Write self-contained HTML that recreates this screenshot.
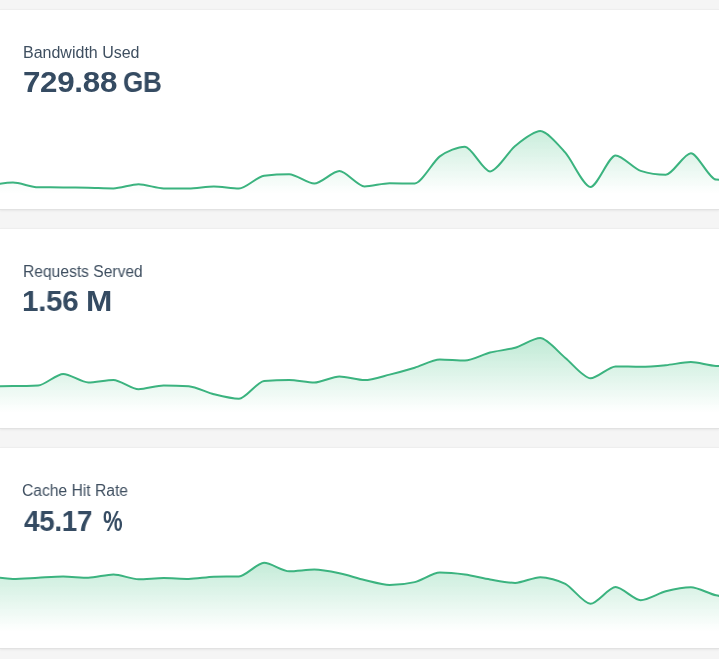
<!DOCTYPE html>
<html><head><meta charset="utf-8"><style>
html,body{margin:0;padding:0;}
body{width:719px;height:659px;overflow:hidden;background:#f5f5f5;position:relative;font-family:"Liberation Sans",sans-serif;}
.card{position:absolute;left:0;width:719px;background:#fff;box-sizing:border-box;border-top:1px solid #eeeeee;border-bottom:1px solid #e2e2e2;box-shadow:0 1px 2px rgba(0,0,0,0.06);overflow:hidden;}
.label{position:absolute;transform-origin:0 0;will-change:transform;font-size:16px;line-height:1;color:#3f4f60;white-space:nowrap;letter-spacing:0px;}
.value{position:absolute;transform-origin:0 0;will-change:transform;font-size:30.2px;line-height:1;font-weight:bold;color:#354b62;white-space:nowrap;letter-spacing:-0.3px;}
.chart{position:absolute;left:0;top:-1px;}
</style></head><body>
<div class="card" style="top:9px;height:201px">
<div class="label" style="left:23.38px;top:35px;transform:scaleX(0.9962)">Bandwidth Used</div>
<div class="value" style="left:23.13px;top:57px;transform:scaleX(1.0383)">729.88</div>
<div class="value" style="left:123.0px;top:57px;transform:scaleX(0.8614)">GB</div>
<svg class="chart" width="719" height="201" viewBox="0 0 719 201">
<defs><linearGradient id="g0" x1="0" y1="110" x2="0" y2="184" gradientUnits="userSpaceOnUse">
<stop offset="0" stop-color="#3fbf80" stop-opacity="0.33"/>
<stop offset="1" stop-color="#3fbf80" stop-opacity="0"/></linearGradient></defs>
<path d="M-12.11,176.50C-5.33,175.33,6.22,173.60,13.00,173.60C19.78,173.60,31.33,178.25,38.11,178.30C44.89,178.35,56.44,178.35,63.21,178.40C69.99,178.45,81.54,178.56,88.32,178.70C95.10,178.83,106.65,179.40,113.43,179.40C120.21,179.40,131.76,175.30,138.53,175.30C145.31,175.30,156.86,179.29,163.64,179.40C170.42,179.51,181.97,179.60,188.75,179.60C195.53,179.60,207.08,177.60,213.86,177.60C220.63,177.60,232.18,179.60,238.96,179.60C245.74,179.60,257.29,167.46,264.07,166.70C270.85,165.94,282.40,165.30,289.18,165.30C295.96,165.30,307.51,174.60,314.28,174.60C321.06,174.60,332.61,162.10,339.39,162.10C346.17,162.10,357.72,177.40,364.50,177.40C371.28,177.40,382.83,174.30,389.61,174.30C396.38,174.30,407.93,174.50,414.71,174.50C421.49,174.50,433.04,152.37,439.82,147.40C446.60,142.43,458.15,137.70,464.93,137.70C471.70,137.70,483.25,162.40,490.03,162.40C496.81,162.40,508.36,142.44,515.14,137.00C521.92,131.56,533.47,122.10,540.25,122.10C547.03,122.10,558.58,136.15,565.35,143.70C572.13,151.25,583.68,178.00,590.46,178.00C597.24,178.00,608.79,146.50,615.57,146.50C622.35,146.50,633.90,159.79,640.67,161.90C647.45,164.01,659.00,165.80,665.78,165.80C672.56,165.80,684.11,144.20,690.89,144.20C697.67,144.20,709.22,170.49,716.00,170.60C722.77,170.71,734.32,170.77,741.10,170.80L741.10,200L-12.11,200Z" fill="url(#g0)"/>
<path d="M-12.11,176.50C-5.33,175.33,6.22,173.60,13.00,173.60C19.78,173.60,31.33,178.25,38.11,178.30C44.89,178.35,56.44,178.35,63.21,178.40C69.99,178.45,81.54,178.56,88.32,178.70C95.10,178.83,106.65,179.40,113.43,179.40C120.21,179.40,131.76,175.30,138.53,175.30C145.31,175.30,156.86,179.29,163.64,179.40C170.42,179.51,181.97,179.60,188.75,179.60C195.53,179.60,207.08,177.60,213.86,177.60C220.63,177.60,232.18,179.60,238.96,179.60C245.74,179.60,257.29,167.46,264.07,166.70C270.85,165.94,282.40,165.30,289.18,165.30C295.96,165.30,307.51,174.60,314.28,174.60C321.06,174.60,332.61,162.10,339.39,162.10C346.17,162.10,357.72,177.40,364.50,177.40C371.28,177.40,382.83,174.30,389.61,174.30C396.38,174.30,407.93,174.50,414.71,174.50C421.49,174.50,433.04,152.37,439.82,147.40C446.60,142.43,458.15,137.70,464.93,137.70C471.70,137.70,483.25,162.40,490.03,162.40C496.81,162.40,508.36,142.44,515.14,137.00C521.92,131.56,533.47,122.10,540.25,122.10C547.03,122.10,558.58,136.15,565.35,143.70C572.13,151.25,583.68,178.00,590.46,178.00C597.24,178.00,608.79,146.50,615.57,146.50C622.35,146.50,633.90,159.79,640.67,161.90C647.45,164.01,659.00,165.80,665.78,165.80C672.56,165.80,684.11,144.20,690.89,144.20C697.67,144.20,709.22,170.49,716.00,170.60C722.77,170.71,734.32,170.77,741.10,170.80" fill="none" stroke="#3bb37f" stroke-width="2.0" stroke-linejoin="round" stroke-linecap="round"/>
</svg>
</div><div class="card" style="top:228px;height:201px">
<div class="label" style="left:23.35px;top:35px;transform:scaleX(0.9755)">Requests Served</div>
<div class="value" style="left:22.31px;top:57px;transform:scaleX(0.9801)">1.56</div>
<div class="value" style="left:85.57px;top:57px;transform:scaleX(1.0466)">M</div>
<svg class="chart" width="719" height="201" viewBox="0 0 719 201">
<defs><linearGradient id="g1" x1="0" y1="110" x2="0" y2="184" gradientUnits="userSpaceOnUse">
<stop offset="0" stop-color="#3fbf80" stop-opacity="0.33"/>
<stop offset="1" stop-color="#3fbf80" stop-opacity="0"/></linearGradient></defs>
<path d="M-12.11,158.20C-5.33,158.19,6.22,158.15,13.00,158.10C19.78,158.05,31.33,157.82,38.11,157.50C44.89,157.18,56.44,145.90,63.21,145.90C69.99,145.90,81.54,154.50,88.32,154.50C95.10,154.50,106.65,152.00,113.43,152.00C120.21,152.00,131.76,161.30,138.53,161.30C145.31,161.30,156.86,157.40,163.64,157.40C170.42,157.40,181.97,157.81,188.75,158.30C195.53,158.79,207.08,164.51,213.86,166.20C220.63,167.89,232.18,170.80,238.96,170.80C245.74,170.80,257.29,153.54,264.07,153.00C270.85,152.46,282.40,152.00,289.18,152.00C295.96,152.00,307.51,154.50,314.28,154.50C321.06,154.50,332.61,148.40,339.39,148.40C346.17,148.40,357.72,152.10,364.50,152.10C371.28,152.10,382.83,148.27,389.61,146.60C396.38,144.93,407.93,141.72,414.71,139.70C421.49,137.67,433.04,131.60,439.82,131.60C446.60,131.60,458.15,132.60,464.93,132.60C471.70,132.60,483.25,126.23,490.03,124.50C496.81,122.77,508.36,121.74,515.14,119.80C521.92,117.86,533.47,110.10,540.25,110.10C547.03,110.10,558.58,124.57,565.35,130.00C572.13,135.43,583.68,150.30,590.46,150.30C597.24,150.30,608.79,138.40,615.57,138.40C622.35,138.40,633.90,138.80,640.67,138.80C647.45,138.80,659.00,137.83,665.78,137.20C672.56,136.57,684.11,134.10,690.89,134.10C697.67,134.10,709.22,137.74,716.00,137.90C722.77,138.06,734.32,138.16,741.10,138.20L741.10,200L-12.11,200Z" fill="url(#g1)"/>
<path d="M-12.11,158.20C-5.33,158.19,6.22,158.15,13.00,158.10C19.78,158.05,31.33,157.82,38.11,157.50C44.89,157.18,56.44,145.90,63.21,145.90C69.99,145.90,81.54,154.50,88.32,154.50C95.10,154.50,106.65,152.00,113.43,152.00C120.21,152.00,131.76,161.30,138.53,161.30C145.31,161.30,156.86,157.40,163.64,157.40C170.42,157.40,181.97,157.81,188.75,158.30C195.53,158.79,207.08,164.51,213.86,166.20C220.63,167.89,232.18,170.80,238.96,170.80C245.74,170.80,257.29,153.54,264.07,153.00C270.85,152.46,282.40,152.00,289.18,152.00C295.96,152.00,307.51,154.50,314.28,154.50C321.06,154.50,332.61,148.40,339.39,148.40C346.17,148.40,357.72,152.10,364.50,152.10C371.28,152.10,382.83,148.27,389.61,146.60C396.38,144.93,407.93,141.72,414.71,139.70C421.49,137.67,433.04,131.60,439.82,131.60C446.60,131.60,458.15,132.60,464.93,132.60C471.70,132.60,483.25,126.23,490.03,124.50C496.81,122.77,508.36,121.74,515.14,119.80C521.92,117.86,533.47,110.10,540.25,110.10C547.03,110.10,558.58,124.57,565.35,130.00C572.13,135.43,583.68,150.30,590.46,150.30C597.24,150.30,608.79,138.40,615.57,138.40C622.35,138.40,633.90,138.80,640.67,138.80C647.45,138.80,659.00,137.83,665.78,137.20C672.56,136.57,684.11,134.10,690.89,134.10C697.67,134.10,709.22,137.74,716.00,137.90C722.77,138.06,734.32,138.16,741.10,138.20" fill="none" stroke="#3bb37f" stroke-width="2.0" stroke-linejoin="round" stroke-linecap="round"/>
</svg>
</div><div class="card" style="top:447px;height:202px">
<div class="label" style="left:22.37px;top:35px;transform:scaleX(0.9768)">Cache Hit Rate</div>
<div class="value" style="left:24.33px;top:58px;transform:scaleX(0.921)">45.17</div>
<div class="value" style="left:103.03px;top:58px;transform:scaleX(0.7259)">%</div>
<svg class="chart" width="719" height="202" viewBox="0 0 719 202">
<defs><linearGradient id="g2" x1="0" y1="110" x2="0" y2="184" gradientUnits="userSpaceOnUse">
<stop offset="0" stop-color="#3fbf80" stop-opacity="0.33"/>
<stop offset="1" stop-color="#3fbf80" stop-opacity="0"/></linearGradient></defs>
<path d="M-12.11,129.00C-5.33,130.17,6.22,131.90,13.00,131.90C19.78,131.90,31.33,131.01,38.11,130.70C44.89,130.39,56.44,129.60,63.21,129.60C69.99,129.60,81.54,130.70,88.32,130.70C95.10,130.70,106.65,127.50,113.43,127.50C120.21,127.50,131.76,132.30,138.53,132.30C145.31,132.30,156.86,131.00,163.64,131.00C170.42,131.00,181.97,131.90,188.75,131.90C195.53,131.90,207.08,129.86,213.86,129.70C220.63,129.54,232.18,129.56,238.96,129.40C245.74,129.24,257.29,115.80,264.07,115.80C270.85,115.80,282.40,124.30,289.18,124.30C295.96,124.30,307.51,122.60,314.28,122.60C321.06,122.60,332.61,124.90,339.39,126.30C346.17,127.70,357.72,131.42,364.50,133.00C371.28,134.58,382.83,138.00,389.61,138.00C396.38,138.00,407.93,136.67,414.71,135.10C421.49,133.53,433.04,125.60,439.82,125.60C446.60,125.60,458.15,126.67,464.93,127.60C471.70,128.53,483.25,131.38,490.03,132.50C496.81,133.62,508.36,135.90,515.14,135.90C521.92,135.90,533.47,130.20,540.25,130.20C547.03,130.20,558.58,133.24,565.35,136.80C572.13,140.36,583.68,156.80,590.46,156.80C597.24,156.80,608.79,140.00,615.57,140.00C622.35,140.00,633.90,153.20,640.67,153.20C647.45,153.20,659.00,146.05,665.78,144.30C672.56,142.54,684.11,140.20,690.89,140.20C697.67,140.20,709.22,146.84,716.00,148.30C722.77,149.76,734.32,150.64,741.10,151.00L741.10,200L-12.11,200Z" fill="url(#g2)"/>
<path d="M-12.11,129.00C-5.33,130.17,6.22,131.90,13.00,131.90C19.78,131.90,31.33,131.01,38.11,130.70C44.89,130.39,56.44,129.60,63.21,129.60C69.99,129.60,81.54,130.70,88.32,130.70C95.10,130.70,106.65,127.50,113.43,127.50C120.21,127.50,131.76,132.30,138.53,132.30C145.31,132.30,156.86,131.00,163.64,131.00C170.42,131.00,181.97,131.90,188.75,131.90C195.53,131.90,207.08,129.86,213.86,129.70C220.63,129.54,232.18,129.56,238.96,129.40C245.74,129.24,257.29,115.80,264.07,115.80C270.85,115.80,282.40,124.30,289.18,124.30C295.96,124.30,307.51,122.60,314.28,122.60C321.06,122.60,332.61,124.90,339.39,126.30C346.17,127.70,357.72,131.42,364.50,133.00C371.28,134.58,382.83,138.00,389.61,138.00C396.38,138.00,407.93,136.67,414.71,135.10C421.49,133.53,433.04,125.60,439.82,125.60C446.60,125.60,458.15,126.67,464.93,127.60C471.70,128.53,483.25,131.38,490.03,132.50C496.81,133.62,508.36,135.90,515.14,135.90C521.92,135.90,533.47,130.20,540.25,130.20C547.03,130.20,558.58,133.24,565.35,136.80C572.13,140.36,583.68,156.80,590.46,156.80C597.24,156.80,608.79,140.00,615.57,140.00C622.35,140.00,633.90,153.20,640.67,153.20C647.45,153.20,659.00,146.05,665.78,144.30C672.56,142.54,684.11,140.20,690.89,140.20C697.67,140.20,709.22,146.84,716.00,148.30C722.77,149.76,734.32,150.64,741.10,151.00" fill="none" stroke="#3bb37f" stroke-width="2.0" stroke-linejoin="round" stroke-linecap="round"/>
</svg>
</div>
</body></html>
